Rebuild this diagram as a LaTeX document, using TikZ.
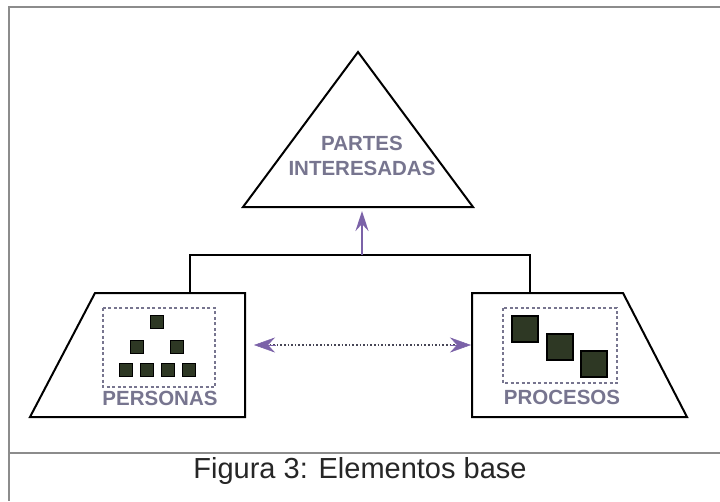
\documentclass[tikz,border=0pt]{standalone}
\usepackage{fontspec}
\setmainfont{Liberation Sans}
\usetikzlibrary{arrows.meta}
\definecolor{labelgray}{HTML}{77758F}
\definecolor{arrowviolet}{HTML}{7B62A8}
\definecolor{boxgreen}{HTML}{2E3824}
\definecolor{framegray}{HTML}{8C8C8C}
\begin{document}
\begin{tikzpicture}[x=1pt,y=-1pt,
  outline/.style={draw=black,line width=2pt,line join=miter},
  lbl/.style={text=labelgray,font=\bfseries\fontsize{20.5}{23}\selectfont,inner sep=0pt},
  group/.style={draw=labelgray,line width=1.3pt,dash pattern=on 3pt off 2.5pt},
  person/.style={draw=black,fill=boxgreen,line width=0.6pt,minimum size=12.5pt,inner sep=0pt},
  task/.style={draw=black,fill=boxgreen,line width=1.6pt,minimum size=26pt,inner sep=0pt},
  link/.style={draw=black,line width=1.4pt},
  tip/.style={-{Stealth[length=21pt,width=15pt,inset=7pt]}}
]
\useasboundingbox (0,0) rectangle (720,501);
\fill[white] (0,0) rectangle (720,501);

% frame and caption divider
\draw[framegray,line width=2.2pt] (720,7) -- (9,7) -- (9,501);
\draw[framegray,line width=2.2pt] (9,453) -- (720,453);
\node[font=\fontsize{29}{32}\selectfont,text=black!85] (caption) at (360,471) {Figura 3: Elementos base};

% stakeholders triangle
\draw[outline] (358,52) -- (473,207) -- (243,207) -- cycle;
\node[lbl,align=center] (stake) at (362,156) {PARTES\\[2pt]INTERESADAS};
\coordinate (tribase) at (362,211);

% left block: people
\draw[outline] (95,293) -- (245,293) -- (245,417) -- (30,417) -- cycle;
\draw[group] (103,308) rectangle (215,387);
\node[person] (p1) at (157,322) {};
\node[person] (p2) at (137,347) {};
\node[person] (p3) at (177,347) {};
\node[person] (p4) at (126,370) {};
\node[person] (p5) at (147,370) {};
\node[person] (p6) at (168,370) {};
\node[person] (p7) at (189,370) {};
\node[lbl] (personas) at (160,398) {PERSONAS};

% right block: processes
\draw[outline] (472,293) -- (623,293) -- (687,417) -- (472,417) -- cycle;
\draw[group] (503,308) rectangle (617,383);
\node[task] (t1) at (525,329) {};
\node[task] (t2) at (560,347) {};
\node[task] (t3) at (594,364) {};
\node[lbl] (procesos) at (562,397) {PROCESOS};

% bracket joining both blocks to the triangle
\coordinate (bl) at (190,293);
\coordinate (br) at (530,293);
\coordinate (blt) at (190,255);
\coordinate (brt) at (530,255);
\coordinate (bmid) at (362,255);
\draw[link] (bl) -- (blt) -- (brt) -- (br);
\draw[arrowviolet,line width=2.6pt,-{Stealth[length=20pt,width=13pt,inset=7pt]}] (bmid) -- (tribase);

% two-way dotted link between people and processes
\coordinate (la) at (254,345);
\coordinate (ra) at (471,345);
\coordinate (lt) at (275.5,345);
\coordinate (rt) at (449.5,345);
\draw[labelgray!60!black,line width=2pt,dash pattern=on 1.6pt off 2pt] (266,345) -- (459,345);
\draw[arrowviolet,line width=0.5pt,tip] (lt) -- (la);
\draw[arrowviolet,line width=0.5pt,tip] (rt) -- (ra);
\end{tikzpicture}
\end{document}
